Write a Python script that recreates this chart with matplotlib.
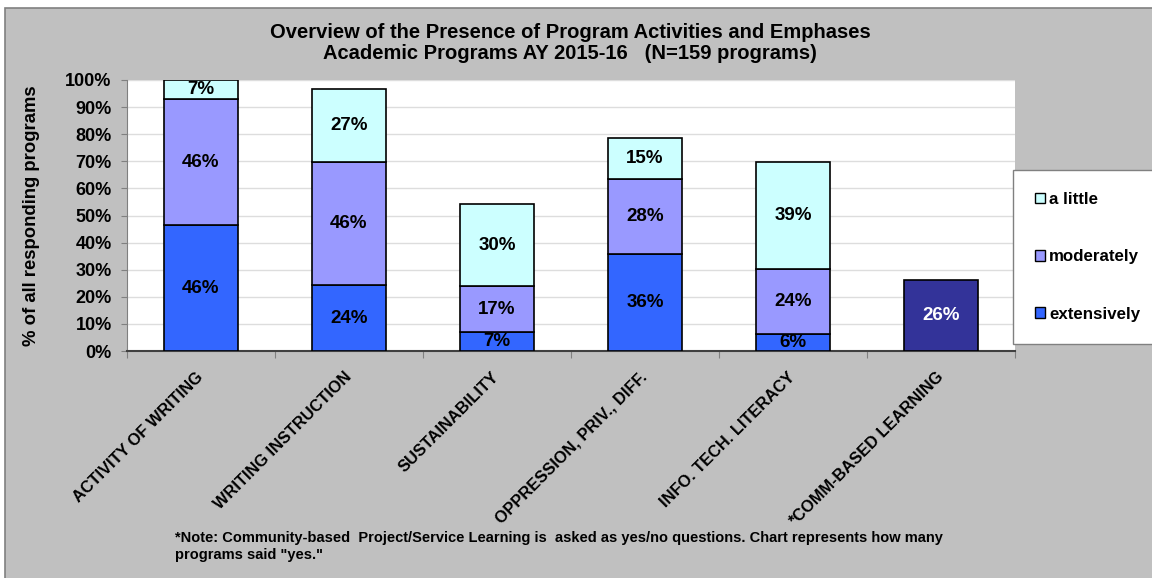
import numpy as np
import matplotlib.pyplot as plt
from matplotlib.patches import Patch, Rectangle

plt.rcParams['font.family'] = ['Liberation Sans', 'DejaVu Sans']
plt.rcParams['font.weight'] = 'bold'

# Data (% of all responding programs)
categories = ['ACTIVITY OF WRITING', 'WRITING INSTRUCTION', 'SUSTAINABILITY',
              'OPPRESSION, PRIV., DIFF.', 'INFO. TECH. LITERACY', '*COMM-BASED LEARNING']
extensively = [46.5, 24.2, 6.9, 35.8, 6.3]
moderately = [46.4, 45.6, 17.2, 27.7, 23.9]
a_little = [7.1, 26.9, 30.0, 15.1, 39.4]
comm_yes = [26.2]

c_ext = '#3366FF'
c_mod = '#9999FF'
c_lit = '#CCFFFF'
c_comm = '#333399'

fig = plt.figure(figsize=(11.52, 5.78), dpi=100, facecolor='white')
# chart area (gray with border, cut off at right/bottom)
fig.patches.append(Rectangle((5 / 1152, -0.05), 1.1, 1.05 - 8 / 578, transform=fig.transFigure,
                             facecolor='#C0C0C0', edgecolor='#808080', linewidth=1.2, zorder=-5))

ax = fig.add_axes([0.1102, 0.3927, 0.7708, 0.4689])
ax.set_facecolor('white')

x = np.arange(len(categories))
xs = x[:5]
w = 0.5
ext = np.array(extensively)
mod = np.array(moderately)
lit = np.array(a_little)

b1 = ax.bar(xs, ext, w, color=c_ext, edgecolor='black', linewidth=1.2, zorder=3)
b2 = ax.bar(xs, mod, w, bottom=ext, color=c_mod, edgecolor='black', linewidth=1.2, zorder=3)
b3 = ax.bar(xs, lit, w, bottom=ext + mod, color=c_lit, edgecolor='black', linewidth=1.2, zorder=3)
b4 = ax.bar(x[5:], comm_yes, w, color=c_comm, edgecolor='black', linewidth=1.2, zorder=3)

for bars, vals in [(b1, ext), (b2, mod), (b3, lit)]:
    ax.bar_label(bars, labels=['%d%%' % round(v) for v in vals], label_type='center',
                 fontsize=13.5, fontweight='bold', color='black', zorder=4)
ax.bar_label(b4, labels=['%d%%' % round(v) for v in comm_yes], label_type='center',
             fontsize=13.5, fontweight='bold', color='white', zorder=4)

ax.set_xlim(-0.5, len(categories) - 0.5)
ax.set_ylim(0, 100)
ax.set_yticks(np.arange(0, 101, 10))
ax.set_yticklabels(['%d%%' % v for v in range(0, 101, 10)], fontsize=13, fontweight='bold')
ax.yaxis.grid(True, color='#DDDDDD', linewidth=1, zorder=0)

ax.set_xticks(np.arange(-0.5, len(categories)), minor=False)
ax.set_xticklabels([])
ax.set_xticks(x, minor=True)
ax.set_xticklabels(categories, minor=True, rotation=45, ha='right', va='center',
                   rotation_mode='anchor', fontsize=11.8, fontweight='bold')
ax.tick_params(axis='x', which='minor', length=0, pad=17)
ax.tick_params(axis='x', which='major', length=5, color='#808080', direction='out')
ax.tick_params(axis='y', length=4, color='#808080', pad=7)

for s in ['top', 'right']:
    ax.spines[s].set_visible(False)
ax.spines['left'].set_color('#808080')
ax.spines['bottom'].set_color('#404040')
ax.spines['bottom'].set_linewidth(1.5)

ax.set_ylabel('% of all responding programs', fontsize=13.3, fontweight='bold', labelpad=18)

fig.text(0.495, 0.9446, 'Overview of the Presence of Program Activities and Emphases',
         ha='center', va='center', fontsize=14.5, fontweight='bold')
fig.text(0.495, 0.9066, 'Academic Programs AY 2015-16   (N=159 programs)',
         ha='center', va='center', fontsize=14.5, fontweight='bold')

handles = [Patch(facecolor=c_lit, edgecolor='black', label='a little'),
           Patch(facecolor=c_mod, edgecolor='black', label='moderately'),
           Patch(facecolor=c_ext, edgecolor='black', label='extensively')]
leg = fig.legend(handles=handles, loc='upper left', bbox_to_anchor=(0.879, 0.706),
                 frameon=True, fancybox=False, edgecolor='#808080', framealpha=1,
                 prop={'size': 12.2, 'weight': 'bold'}, handlelength=0.6, handleheight=0.6,
                 handletextpad=0.25, labelspacing=2.5, borderpad=1.3, borderaxespad=0)

fig.text(0.152, 0.055, '*Note: Community-based  Project/Service Learning is  asked as yes/no questions. '
         'Chart represents how many\nprograms said "yes."', ha='left', va='center',
         fontsize=10.5, fontweight='bold', linespacing=1.25)

fig.savefig('out.png', dpi=100, facecolor=fig.get_facecolor())
